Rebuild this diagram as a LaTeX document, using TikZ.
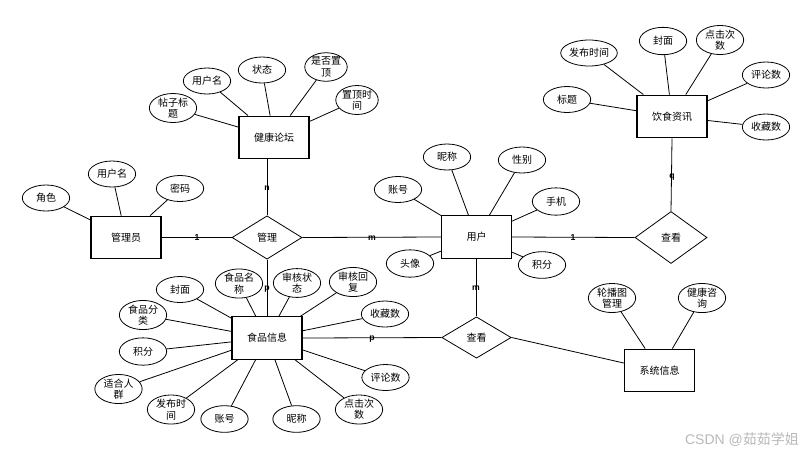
\documentclass[tikz,border=0pt]{standalone}
\usepackage{fontspec}
\setmainfont{Liberation Sans}
\newfontfamily\cjk{Noto Sans CJK SC}
\usetikzlibrary{shapes.geometric}
\begin{document}
\begin{tikzpicture}[x=0.75pt,y=-0.75pt,
  ent/.style={draw,line width=0.9pt,minimum width=52.5pt,minimum height=32pt,inner sep=0pt,font=\cjk\fontsize{7.5}{9}\selectfont},
  attr/.style={draw,ellipse,line width=0.6pt,minimum width=35.5pt,minimum height=19.5pt,inner sep=0pt,align=center,font=\cjk\fontsize{7.5}{8.5}\selectfont},
  rel/.style={draw,diamond,line width=0.6pt,inner sep=0pt,font=\cjk\fontsize{7.5}{9}\selectfont},
  lnk/.style={line width=0.6pt},
  card/.style={font=\bfseries\fontsize{6.5}{6.5}\selectfont,inner sep=0pt}]
\useasboundingbox (0,0) rectangle (812,455);

% entities
\node[ent] (forum) at (274,137.5) {健康论坛};
\node[ent] (diet) at (672,116.5) {饮食资讯};
\node[ent] (admin) at (126,237.5) {管理员};
\node[ent] (user) at (476.5,237) {用户};
\node[ent] (food) at (267,338) {食品信息};
\node[ent] (sys) at (659.5,370.5) {系统信息};

% relations
\node[rel,minimum width=52.5pt,minimum height=32.5pt] (manage) at (267,237.5) {管理};
\node[rel,minimum width=54pt,minimum height=39pt] (viewR) at (671,237.5) {查看};
\node[rel,minimum width=52pt,minimum height=31pt] (viewB) at (476.5,337.5) {查看};

% forum attributes
\node[attr] (f1) at (173,108) {帖子标\\题};
\node[attr] (f2) at (207,81) {用户名};
\node[attr] (f3) at (262,70) {状态};
\node[attr,minimum width=30pt,minimum height=20.5pt] (f4) at (326,67) {是否置\\顶};
\node[attr,minimum width=31.5pt,minimum height=21pt] (f5) at (357,100) {置顶时\\间};
\foreach \a in {f1,f2,f3,f4,f5} \draw[lnk] (\a) -- (forum);

% diet attributes
\node[attr] (d1) at (589,53) {发布时间};
\node[attr,minimum height=20.5pt] (d2) at (663,41) {封面};
\node[attr,minimum height=21pt] (d3) at (720,40) {点击次\\数};
\node[attr] (d4) at (766,75) {评论数};
\node[attr] (d5) at (567,99.5) {标题};
\node[attr] (d6) at (766,127) {收藏数};
\foreach \a in {d1,d2,d3,d4,d5,d6} \draw[lnk] (\a) -- (diet);

% admin attributes
\node[attr] (a1) at (46,198) {角色};
\node[attr] (a2) at (112,174) {用户名};
\node[attr] (a3) at (180,188.5) {密码};
\foreach \a in {a1,a2,a3} \draw[lnk] (\a) -- (admin);

% user attributes
\node[attr] (u1) at (447,157) {昵称};
\node[attr] (u2) at (522,160) {性别};
\node[attr] (u3) at (398,189.5) {账号};
\node[attr,minimum height=20.5pt] (u4) at (556,201.5) {手机};
\node[attr,minimum height=20.5pt] (u5) at (410,263.5) {头像};
\node[attr,minimum height=20pt] (u6) at (542,265) {积分};
\foreach \a in {u1,u2,u3,u4,u5,u6} \draw[lnk] (\a) -- (user);

% food attributes
\node[attr] (g1) at (180,289.5) {封面};
\node[attr,minimum height=20.5pt] (g2) at (239,283.5) {食品名\\称};
\node[attr,minimum height=21pt] (g3) at (297,283) {审核状\\态};
\node[attr,minimum height=20pt] (g4) at (353,282) {审核回\\复};
\node[attr] (g5) at (385,314) {收藏数};
\node[attr,minimum height=20pt] (g6) at (143,315) {食品分\\类};
\node[attr,minimum height=20.5pt] (g7) at (143,351.5) {积分};
\node[attr,minimum height=21pt] (g8) at (118.5,389) {适合人\\群};
\node[attr,minimum height=20.5pt] (g9) at (171,409.5) {发布时\\间};
\node[attr,minimum height=20pt] (g10) at (224.5,419) {账号};
\node[attr,minimum height=20pt] (g11) at (296.5,419) {昵称};
\node[attr,minimum height=20.5pt] (g12) at (359,409.5) {点击次\\数};
\node[attr] (g13) at (385.5,377.5) {评论数};
\foreach \a in {g1,g2,g3,g4,g5,g6,g7,g8,g9,g10,g11,g12,g13} \draw[lnk] (\a) -- (food);

% system attributes
\node[attr,minimum height=21pt] (s1) at (612,298) {轮播图\\管理};
\node[attr,minimum height=21pt] (s2) at (702,298) {健康咨\\询};
\foreach \a in {s1,s2} \draw[lnk] (\a) -- (sys);

% relationship links
\draw[lnk] (admin.east) -- (manage.west);
\draw[lnk] (manage.east) -- (user.west);
\draw[lnk] (user.east) -- (viewR.west);
\draw[lnk] (diet.south) -- (viewR.north);
\draw[lnk] (manage.north) -- (manage.north |- forum.south);
\draw[lnk] (manage.south) -- (food.north);
\draw[lnk] (user.south) -- (viewB.north);
\draw[lnk] (food.east) -- (viewB.west);
\draw[lnk] (viewB.east) -- ([yshift=5.6pt]sys.west);

% cardinalities
\node[card] (c1) at (197,238) {1};
\node[card] (c2) at (267,188) {n};
\node[card] (c3) at (372,238) {m};
\node[card] (c4) at (573,238) {1};
\node[card] (c5) at (672,177) {q};
\node[card] (c6) at (267,289) {p};
\node[card] (c7) at (372,339) {p};
\node[card] (c8) at (476,288) {m};

% watermark
\node[text=black!28,font=\fontsize{10.5}{11}\selectfont,inner sep=0pt] (wm) at (742,440) {CSDN @{\cjk 茹茹学姐}};
\end{tikzpicture}
\end{document}
